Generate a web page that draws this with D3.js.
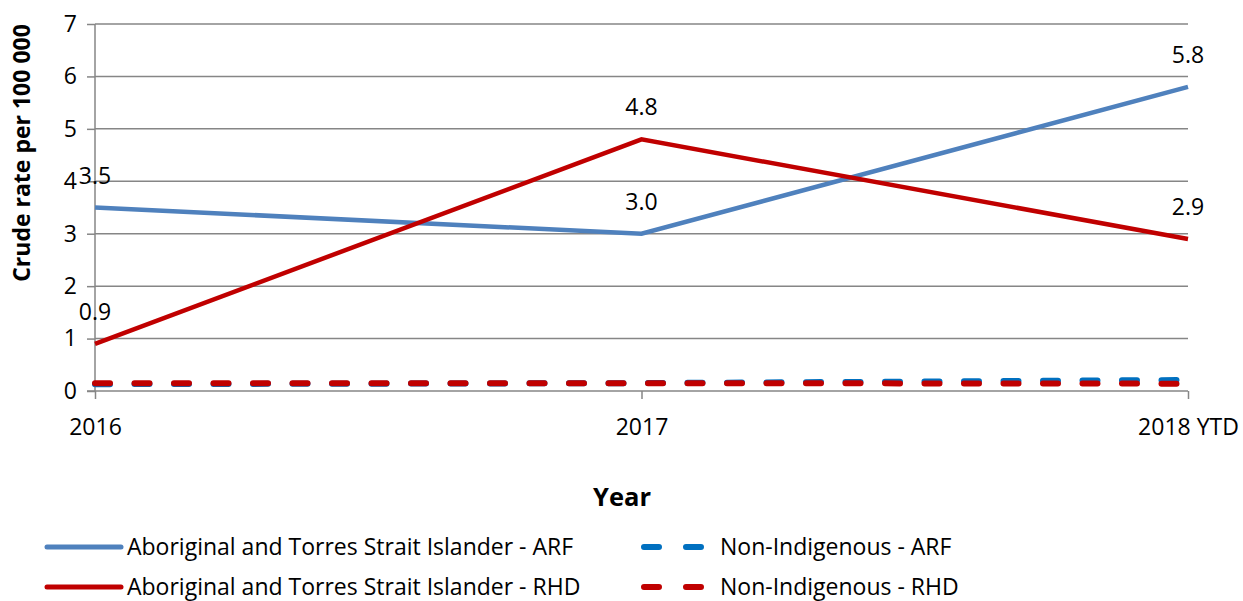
<!DOCTYPE html>
<html>
<head>
<meta charset="utf-8">
<script src="https://cdn.jsdelivr.net/npm/d3@7"></script>
<style>
  html, body { margin: 0; padding: 0; background: #fff; }
  svg { display: block; font-family: "Open Sans", Lato, sans-serif; }
</style>
</head>
<body>
<svg id="chart" width="1243" height="601"></svg>
<script>
// Crude rates per 100 000 population, by year
const years = ["2016", "2017", "2018 YTD"];
const aboriginalARF = [3.5, 3.0, 5.8];
const nonIndigenousARF = [0.13, 0.15, 0.21];
const aboriginalRHD = [0.9, 4.8, 2.9];
const nonIndigenousRHD = [0.15, 0.15, 0.14];
const yTicks = [0, 1, 2, 3, 4, 5, 6, 7];

const series = [
  { name: "Aboriginal and Torres Strait Islander - ARF", values: aboriginalARF, color: "#4F81BD", dashed: false, labels: true },
  { name: "Non-Indigenous - ARF", values: nonIndigenousARF, color: "#0070C0", dashed: true, labels: false },
  { name: "Aboriginal and Torres Strait Islander - RHD", values: aboriginalRHD, color: "#C00000", dashed: false, labels: true },
  { name: "Non-Indigenous - RHD", values: nonIndigenousRHD, color: "#C00000", dashed: true, labels: false }
];

const svg = d3.select("#chart");
const plotLeft = 95, plotRight = 1188, plotTop = 24, plotBottom = 391;
const font = "'Open Sans', sans-serif";
const fs = 23;

const x = d3.scalePoint().domain(years).range([plotLeft, plotRight]);
const y = d3.scaleLinear().domain([0, 7]).range([plotBottom, plotTop]);

const grid = "#868686";

// horizontal gridlines
svg.append("g").selectAll("line").data(yTicks.filter(d => d > 0)).join("line")
  .attr("x1", plotLeft).attr("x2", plotRight)
  .attr("y1", d => y(d)).attr("y2", d => y(d))
  .attr("stroke", grid).attr("stroke-width", 1.5);

// y axis
const yAxis = svg.append("g").attr("transform", `translate(${plotLeft},0)`)
  .call(d3.axisLeft(y).tickValues(yTicks).tickSize(8).tickPadding(10).tickFormat(d3.format("d")));
yAxis.select(".domain").attr("stroke", grid).attr("stroke-width", 1.5).attr("d", `M0,${plotTop}V${plotBottom}`);
yAxis.selectAll(".tick line").attr("stroke", grid).attr("stroke-width", 1.5);
yAxis.selectAll(".tick text").attr("font-size", fs).attr("fill", "#000").attr("font-family", font);

// x axis
const xAxis = svg.append("g").attr("transform", `translate(0,${plotBottom})`)
  .call(d3.axisBottom(x).tickSize(8).tickPadding(20));
xAxis.select(".domain").attr("stroke", grid).attr("stroke-width", 1.5).attr("d", `M${plotLeft - 8},0H${plotRight}`);
xAxis.selectAll(".tick line").attr("stroke", grid).attr("stroke-width", 1.5);
xAxis.selectAll(".tick text").attr("font-size", fs).attr("fill", "#000").attr("font-family", font);

// series lines
const line = d3.line().x((d, i) => x(years[i])).y(d => y(d));
series.forEach(s => {
  svg.append("path")
    .datum(s.values)
    .attr("d", line)
    .attr("fill", "none")
    .attr("stroke", s.color)
    .attr("stroke-width", s.dashed ? 6 : 4.5)
    .attr("stroke-linecap", s.dashed ? "round" : "butt")
    .attr("stroke-dasharray", s.dashed ? "15,24.5" : null);
});

// value labels above the Aboriginal and Torres Strait Islander points
series.filter(s => s.labels).forEach(s => {
  svg.append("g").selectAll("text").data(s.values).join("text")
    .attr("x", (d, i) => x(years[i]))
    .attr("y", d => y(d) - 24)
    .attr("text-anchor", "middle")
    .attr("font-size", fs)
    .attr("fill", "#000")
    .text(d => d3.format(".1f")(d));
});

// axis titles
svg.append("text")
  .attr("transform", "translate(30,153) rotate(-90)")
  .attr("text-anchor", "middle")
  .attr("font-size", 23)
  .attr("font-weight", "bold")
  .text("Crude rate per 100 000");

svg.append("text")
  .attr("x", 622).attr("y", 506)
  .attr("text-anchor", "middle")
  .attr("font-size", 25.5)
  .attr("font-weight", "bold")
  .text("Year");

// legend, two columns
const legendPos = [
  { sx: 47, tx: 127, y: 547 },
  { sx: 640, tx: 720, y: 547 },
  { sx: 47, tx: 127, y: 587 },
  { sx: 640, tx: 720, y: 587 }
];
series.forEach((s, i) => {
  const p = legendPos[i];
  const g = svg.append("g");
  if (s.dashed) {
    g.append("line")
      .attr("x1", p.sx + 4).attr("x2", p.sx + 65)
      .attr("y1", p.y).attr("y2", p.y)
      .attr("stroke", s.color).attr("stroke-width", 6)
      .attr("stroke-linecap", "round")
      .attr("stroke-dasharray", "15,27");
  } else {
    g.append("line")
      .attr("x1", p.sx).attr("x2", p.sx + 74)
      .attr("y1", p.y).attr("y2", p.y)
      .attr("stroke", s.color).attr("stroke-width", 5)
      .attr("stroke-linecap", "round");
  }
  g.append("text")
    .attr("x", p.tx).attr("y", p.y + 8)
    .attr("font-size", fs)
    .attr("fill", "#000")
    .text(s.name);
});
</script>
</body>
</html>
